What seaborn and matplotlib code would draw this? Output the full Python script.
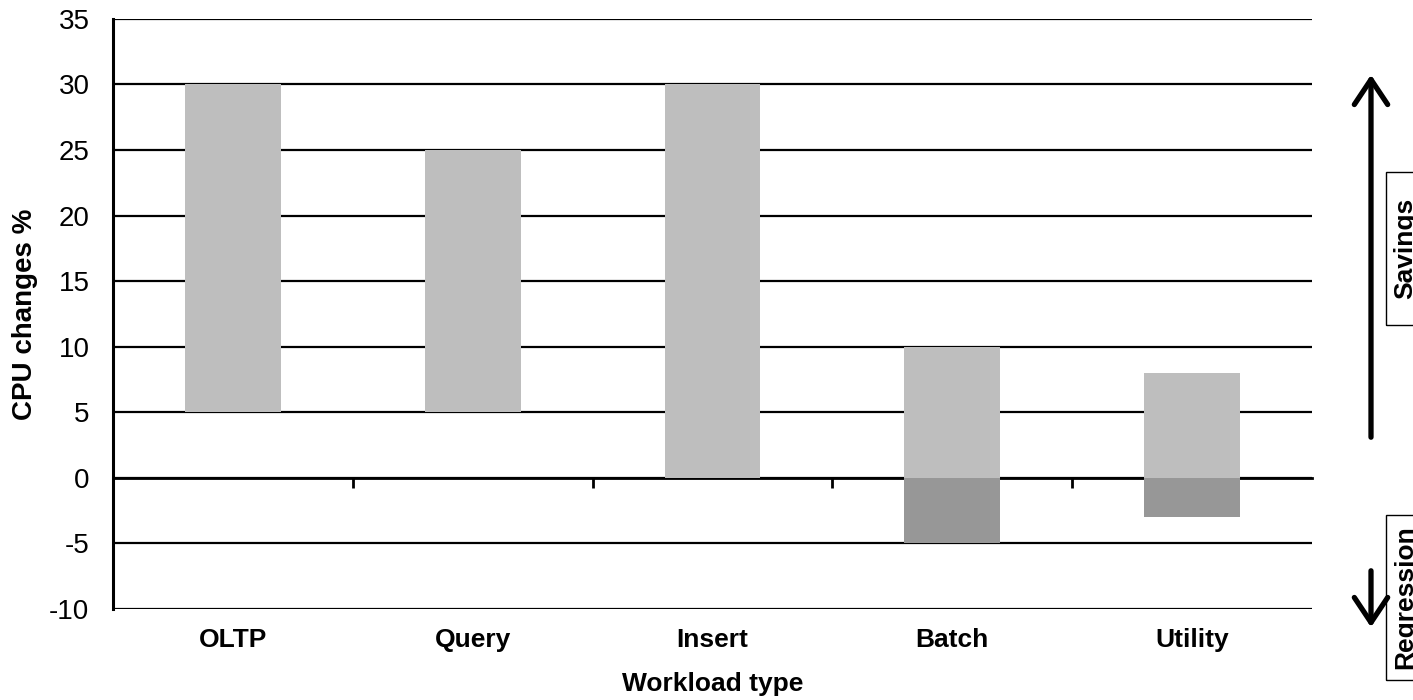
import matplotlib
matplotlib.use("Agg")
import matplotlib.pyplot as plt
import seaborn as sns
import numpy as np
from matplotlib.patches import Rectangle, FancyArrowPatch

categories = ["OLTP", "Query", "Insert", "Batch", "Utility"]
savings_low = [5, 5, 0, 0, 0]
savings_high = [30, 25, 30, 10, 8]
regression = [0, 0, 0, -5, -3]

sns.set_style("white")
plt.rcParams["font.family"] = ["Liberation Sans", "DejaVu Sans"]
plt.rcParams["axes.unicode_minus"] = False
plt.rcParams["text.color"] = "black"
plt.rcParams["axes.labelcolor"] = "black"
plt.rcParams["xtick.color"] = "black"
plt.rcParams["ytick.color"] = "black"

fig = plt.figure(figsize=(14.13, 7), dpi=100)
ax = fig.add_axes([0.080, 0.13, 0.8485, 0.843])

heights = np.array(savings_high) - np.array(savings_low)
sns.barplot(x=categories, y=heights, bottom=savings_low, color="#BEBEBE",
            saturation=1, width=0.4, ax=ax, zorder=3, edgecolor="none")
sns.barplot(x=categories, y=regression, color="#979797",
            saturation=1, width=0.4, ax=ax, zorder=3, edgecolor="none")

ax.set_ylim(-10, 35)
ax.set_xlim(-0.5, len(categories) - 0.5)
ax.set_yticks(range(-10, 36, 5))
ax.yaxis.grid(True, color="black", linewidth=1.6)
ax.set_axisbelow(True)

for s in ["top", "right", "bottom"]:
    ax.spines[s].set_visible(False)
ax.spines["left"].set_color("black")
ax.spines["left"].set_linewidth(2.2)

ax.tick_params(axis="y", direction="out", length=7, width=1.6, color="black",
               labelsize=20, pad=10, labelcolor="black")
ax.tick_params(axis="x", length=0, labelsize=19, pad=14, labelcolor="black")
for lab in ax.get_xticklabels():
    lab.set_fontweight("bold")

# zero line with category separators
zero_frac = 10 / 45
sec = ax.secondary_xaxis(zero_frac)
sec.set_xticks(np.arange(0.5, len(categories) - 0.5, 1))
sec.set_xticklabels([])
sec.tick_params(direction="out", length=7, width=2, color="black")
sec.spines["bottom"].set_linewidth(2)
sec.spines["bottom"].set_color("black")
sec.spines["top"].set_visible(False)
sec.xaxis.set_ticks_position("bottom")

ax.set_xlabel("Workload type", fontsize=19, fontweight="bold", labelpad=14)
ax.set_ylabel("CPU changes %", fontsize=20, fontweight="bold", labelpad=8)

W, H = 1413, 700

def fx(px):
    return px / W

def fy(py):
    return 1 - py / H

# arrows on right side
fig.patches.append(FancyArrowPatch((fx(1371), fy(440)), (fx(1371), fy(72)),
                                   transform=fig.transFigure,
                                   arrowstyle="->,head_length=9,head_width=6",
                                   mutation_scale=2, lw=3.8, color="black"))
fig.patches.append(FancyArrowPatch((fx(1371), fy(568)), (fx(1371), fy(630)),
                                   transform=fig.transFigure,
                                   arrowstyle="->,head_length=9,head_width=6",
                                   mutation_scale=2, lw=3.8, color="black"))

# boxed labels
fig.patches.append(Rectangle((fx(1386), fy(325)), fx(40), 153 / H,
                             transform=fig.transFigure, fill=False,
                             edgecolor="black", lw=1))
fig.patches.append(Rectangle((fx(1386), fy(680)), fx(40), 165 / H,
                             transform=fig.transFigure, fill=False,
                             edgecolor="black", lw=1))
fig.text(fx(1393), fy(248), "Savings", rotation=90, ha="left", va="center",
         fontsize=19, fontweight="bold")
fig.text(fx(1393), fy(597), "Regression", rotation=90, ha="left", va="center",
         fontsize=19, fontweight="bold")

plt.savefig("out.png", dpi=100)
plt.close()
